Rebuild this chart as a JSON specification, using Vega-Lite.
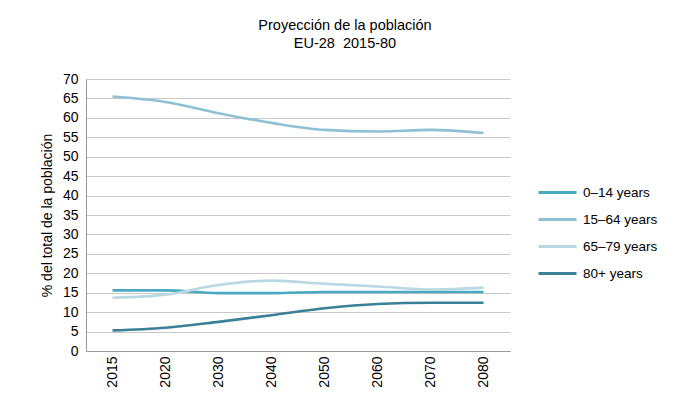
{
  "$schema": "https://vega.github.io/schema/vega-lite/v6.json",
  "autosize": {"type": "none"},
  "padding": {"left": 86, "top": 79, "right": 174, "bottom": 51},
  "width": 424,
  "height": 272,
  "background": "white",
  "title": {
    "text": ["Proyección de la población", "EU-28\u00a0\u00a02015-80"],
    "anchor": "middle",
    "frame": "group",
    "dx": 47,
    "offset": 21,
    "font": "Liberation Sans",
    "fontSize": 14.5,
    "fontWeight": "normal",
    "color": "#000000",
    "lineHeight": 18
  },
  "data": {
    "values": [
      {"year": "2015", "group": "0–14 years", "value": 15.6},
      {"year": "2020", "group": "0–14 years", "value": 15.6},
      {"year": "2030", "group": "0–14 years", "value": 14.9},
      {"year": "2040", "group": "0–14 years", "value": 14.9},
      {"year": "2050", "group": "0–14 years", "value": 15.2},
      {"year": "2060", "group": "0–14 years", "value": 15.2},
      {"year": "2070", "group": "0–14 years", "value": 15.2},
      {"year": "2080", "group": "0–14 years", "value": 15.2},
      {"year": "2015", "group": "15–64 years", "value": 65.5},
      {"year": "2020", "group": "15–64 years", "value": 64.1},
      {"year": "2030", "group": "15–64 years", "value": 61.2},
      {"year": "2040", "group": "15–64 years", "value": 58.7},
      {"year": "2050", "group": "15–64 years", "value": 56.9},
      {"year": "2060", "group": "15–64 years", "value": 56.5},
      {"year": "2070", "group": "15–64 years", "value": 56.9},
      {"year": "2080", "group": "15–64 years", "value": 56.1},
      {"year": "2015", "group": "65–79 years", "value": 13.7},
      {"year": "2020", "group": "65–79 years", "value": 14.5},
      {"year": "2030", "group": "65–79 years", "value": 17.0},
      {"year": "2040", "group": "65–79 years", "value": 18.1},
      {"year": "2050", "group": "65–79 years", "value": 17.3},
      {"year": "2060", "group": "65–79 years", "value": 16.6},
      {"year": "2070", "group": "65–79 years", "value": 15.8},
      {"year": "2080", "group": "65–79 years", "value": 16.3},
      {"year": "2015", "group": "80+ years", "value": 5.3},
      {"year": "2020", "group": "80+ years", "value": 6.0},
      {"year": "2030", "group": "80+ years", "value": 7.5},
      {"year": "2040", "group": "80+ years", "value": 9.2},
      {"year": "2050", "group": "80+ years", "value": 11.0},
      {"year": "2060", "group": "80+ years", "value": 12.1},
      {"year": "2070", "group": "80+ years", "value": 12.4},
      {"year": "2080", "group": "80+ years", "value": 12.4}
    ]
  },
  "mark": {"type": "line", "strokeWidth": 2.6, "interpolate": "monotone"},
  "encoding": {
    "x": {
      "field": "year",
      "type": "ordinal",
      "scale": {"type": "point", "padding": 0.5},
      "axis": {
        "title": null,
        "labelAngle": -90,
        "labelFont": "Liberation Sans",
        "labelFontSize": 14,
        "labelColor": "#000000",
        "labelPadding": 5,
        "ticks": false,
        "domainColor": "#999999",
        "grid": false
      }
    },
    "y": {
      "field": "value",
      "type": "quantitative",
      "scale": {"domain": [0, 70], "nice": false},
      "axis": {
        "title": "% del total de la población",
        "titleFont": "Liberation Sans",
        "titleFontSize": 14,
        "titleFontWeight": "normal",
        "titleColor": "#000000",
        "titlePadding": 8,
        "values": [0, 5, 10, 15, 20, 25, 30, 35, 40, 45, 50, 55, 60, 65, 70],
        "labelFont": "Liberation Sans",
        "labelFontSize": 14,
        "labelColor": "#000000",
        "labelPadding": 8,
        "ticks": false,
        "domainColor": "#999999",
        "gridColor": "#c8c8c8",
        "gridWidth": 1
      }
    },
    "color": {
      "field": "group",
      "type": "nominal",
      "scale": {
        "domain": ["0–14 years", "15–64 years", "65–79 years", "80+ years"],
        "range": ["#4aa9c2", "#8fc0d4", "#b8d8e3", "#3a8096"]
      },
      "legend": {
        "title": null,
        "orient": "none",
        "legendX": 451,
        "legendY": 93,
        "symbolType": "stroke",
        "symbolSize": 1444,
        "symbolStrokeWidth": 3,
        "labelFont": "Liberation Sans",
        "labelFontSize": 13.5,
        "labelColor": "#000000",
        "labelOffset": 5,
        "rowPadding": -10
      }
    }
  },
  "config": {
    "view": {"stroke": null}
  }
}
